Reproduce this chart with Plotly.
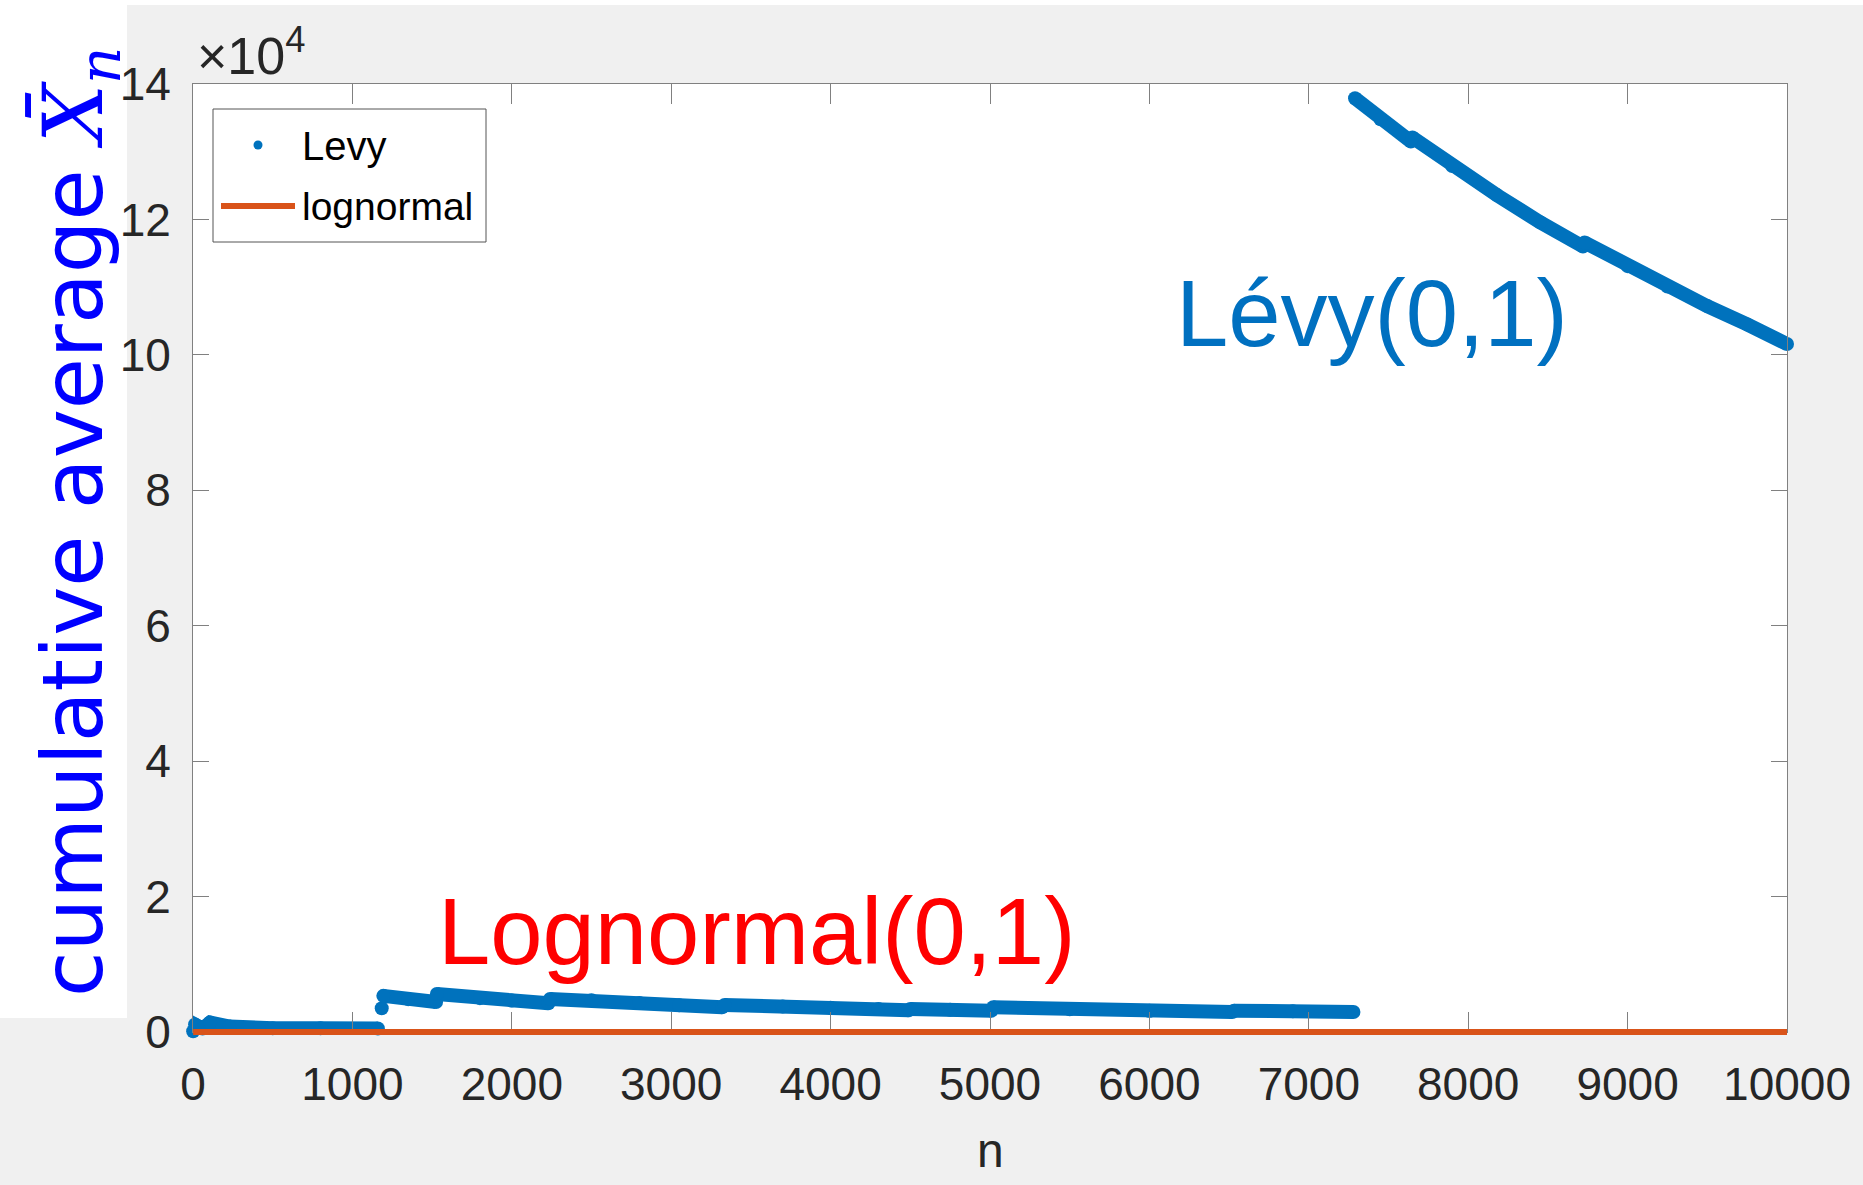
import plotly.graph_objects as go

# ---- data -------------------------------------------------------------
# Lévy(0,1): running (cumulative) mean at selected n; None splits the runs
# where a single large draw makes the mean jump.
levy_n = [1, 13, 60, 107, 230, 340, 500, 800, 1160, None,
          1184, None,
          1194, 1350, 1525, None,
          1530, 1800, 2000, 2230, None,
          2240, 2500, 2800, 3050, 3320, None,
          3335, 3700, 4000, 4300, 4490, None,
          4500, 4750, 5010, None,
          5020, 5500, 6000, 6520, None,
          6530, 6900, 7280, None,
          7290, 7450, 7640, None,
          7650, 7900, 8180, 8450, 8720, None,
          8730, 9000, 9250, 9500, 9750, 10000]
levy_mean = [100, 1100, 500, 1400, 800, 600, 560, 540, 520, None,
             3500, None,
             5340, 4850, 4430, None,
             5610, 5000, 4650, 4240, None,
             4870, 4700, 4300, 3950, 3650, None,
             4000, 3750, 3580, 3400, 3200, None,
             3400, 3280, 3150, None,
             3650, 3350, 3120, 2950, None,
             3150, 3050, 2950, None,
             137900, 134800, 131500, None,
             132100, 127900, 123600, 119600, 116000, None,
             116600, 113100, 110100, 107200, 104500, 101600]

# Lognormal(0,1): running mean stays near e^0.5
lognormal_n = [1, 2500, 5000, 7500, 10000]
lognormal_mean = [1.6, 1.7, 1.65, 1.65, 1.65]

x_ticks = list(range(0, 10001, 1000))
x_ticktext = ["0", "1000", "2000", "3000", "4000", "5000",
              "6000", "7000", "8000", "9000", "10000"]
y_ticks = list(range(0, 140001, 20000))
y_ticktext = ["0", "2", "4", "6", "8", "10", "12", "14"]

# ---- geometry -----------------------------------------------------------
W, H = 1863, 1185
ML, MR, MT, MB = 193, 76, 84, 147
PW, PH = W - ML - MR, H - MT - MB
EXT = 6                      # extra px below the axes so the flat line is not cut
Y_MAX = 140000
X_MAX = 10000
per_px = Y_MAX / (PH - EXT)


def fx(px):
    return (px - ML) / PW


def fy(py):
    return (H - MB - py) / PH


BLUE = "#0072BD"
ORANGE = "#D95319"
AX = "#808080"
TXT = "#262626"
SANS = "Liberation Sans, Arial"

fig = go.Figure()

fig.add_trace(go.Scatter(
    x=levy_n, y=levy_mean, mode="lines+markers", name="Levy",
    line=dict(color=BLUE, width=14),
    marker=dict(color=BLUE, size=14),
    cliponaxis=False, connectgaps=False, showlegend=False,
    xaxis="x", yaxis="y",
))

fig.add_trace(go.Scatter(
    x=lognormal_n, y=lognormal_mean, mode="lines", name="lognormal",
    line=dict(color=ORANGE, width=6),
    showlegend=False, xaxis="x2", yaxis="y2",
))

axis_common = dict(
    ticks="inside", tickcolor=AX, tickwidth=1,
    showline=True, linecolor=AX, linewidth=1, mirror="ticks",
    showgrid=False, zeroline=False,
    tickfont=dict(family=SANS, size=46, color=TXT),
)

fig.update_layout(
    width=W, height=H,
    margin=dict(l=ML, r=MR, t=MT, b=MB, pad=0),
    paper_bgcolor="#f0f0f0",
    plot_bgcolor="rgba(0,0,0,0)",
    showlegend=False,
    xaxis=dict(domain=[0, 1], range=[0, X_MAX], tickvals=x_ticks,
               ticktext=x_ticktext, ticklen=20, ticklabelstandoff=12,
               anchor="y", **axis_common),
    yaxis=dict(domain=[EXT / PH, 1], range=[0, Y_MAX], tickvals=y_ticks,
               ticktext=y_ticktext, ticklen=16, ticklabelstandoff=12,
               anchor="x", **axis_common),
    xaxis2=dict(domain=[0, 1], range=[0, X_MAX], anchor="y2", visible=False),
    yaxis2=dict(domain=[0, 1], range=[-EXT * per_px, Y_MAX], anchor="x2",
                visible=False),
)

shapes = [
    # white axes background
    dict(type="rect", xref="x domain", yref="y domain", x0=0, x1=1, y0=0, y1=1,
         fillcolor="white", line=dict(width=0), layer="below"),
    # white panel behind the y label and thin white top border
    dict(type="rect", xref="paper", yref="paper", x0=fx(0), x1=fx(127),
         y0=fy(1018), y1=fy(0), fillcolor="white", line=dict(width=0), layer="below"),
    dict(type="rect", xref="paper", yref="paper", x0=fx(0), x1=fx(W),
         y0=fy(5), y1=fy(0), fillcolor="white", line=dict(width=0), layer="below"),
    # legend box and its glyphs
    dict(type="rect", xref="paper", yref="paper", x0=fx(213), x1=fx(486),
         y0=fy(242), y1=fy(109), fillcolor="white",
         line=dict(color="#555555", width=1), layer="above"),
    dict(type="circle", xref="paper", yref="paper", x0=fx(253.5), x1=fx(262.5),
         y0=fy(149.5), y1=fy(140.5), fillcolor=BLUE, line=dict(width=0)),
    dict(type="line", xref="paper", yref="paper", x0=fx(221), x1=fx(295),
         y0=fy(206), y1=fy(206), line=dict(color=ORANGE, width=6)),
]
fig.update_layout(shapes=shapes)

ann = [
    dict(text="Levy", x=fx(300), y=fy(146), xanchor="left", yanchor="middle",
         font=dict(family=SANS, size=40, color="black")),
    dict(text="lognormal", x=fx(300), y=fy(207), xanchor="left", yanchor="middle",
         font=dict(family=SANS, size=39, color="black")),
    dict(text="×10<sup>4</sup>", x=fx(195), y=fy(52), xanchor="left", yanchor="middle",
         font=dict(family=SANS, size=52, color=TXT)),
    dict(text="n", x=fx(990), y=fy(1150), xanchor="center", yanchor="middle",
         font=dict(family=SANS, size=48, color=TXT)),
    dict(text="Lévy(0,1)", x=fx(1174), y=fy(313), xanchor="left", yanchor="middle",
         font=dict(family=SANS, size=94, color="#0070C0")),
    dict(text="Lognormal(0,1)", x=fx(436), y=fy(931), xanchor="left", yanchor="middle",
         font=dict(family=SANS, size=94, color="#FF0000")),
    dict(text='cumulative average <span style="font-family:DejaVu Serif">'
              '<i>X̄</i><sub><i>n</i></sub></span>',
         x=fx(79), y=fy(522), xanchor="center", yanchor="middle", textangle=-90,
         font=dict(family="DejaVu Sans", size=83, color="#0000FF")),
]
for a in ann:
    a.update(xref="paper", yref="paper", showarrow=False)
fig.update_layout(annotations=ann)

fig.write_html("out.html")
